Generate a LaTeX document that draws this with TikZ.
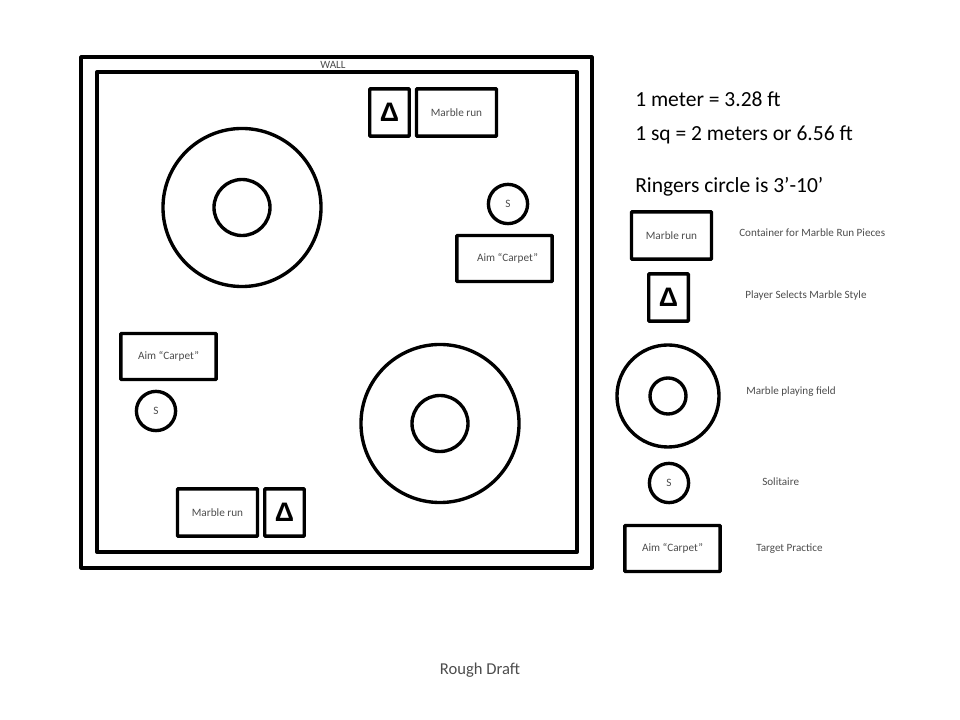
\documentclass[tikz,border=0pt]{standalone}
\usepackage{fontspec}
\setmainfont{Carlito}
\newfontfamily\simbolo{Liberation Sans}
\tikzset{
  pared/.style={draw, line width=2.8pt, line join=round},
  caja/.style={draw, line width=2.4pt, rounded corners=0.5pt, inner sep=0pt, text=black!70, font=\fontsize{8}{9}\selectfont},
  corrida/.style={caja, minimum width=2cm, minimum height=1.18cm},
  selector/.style={caja, minimum width=0.99cm, minimum height=1.18cm, text=black, font=\simbolo\fontsize{19}{21}\selectfont\bfseries},
  alfombra/.style={caja, minimum width=2.38cm, minimum height=1.15cm},
  solitario/.style={caja, circle, minimum size=0.98cm},
  campo/.style={draw, circle, line width=2.4pt, inner sep=0pt},
  nota/.style={anchor=base west, text=black!70, inner sep=0pt, font=\fontsize{7.9}{9}\selectfont},
  grande/.style={anchor=base west, inner sep=0pt, font=\fontsize{15.3}{18}\selectfont}
}
\begin{document}
\begin{tikzpicture}[x=0.025cm, y=-0.025cm]
  \useasboundingbox (0,0) rectangle (960,720);

  % Paredes
  \node[pared, inner sep=0pt, minimum size=12.75cm] (muro) at (336.5,312.5) {};
  \node[pared, line width=2.6pt, inner sep=0pt, minimum width=12cm, minimum height=12cm] (sala) at (337,312) {};
  \node[nota, anchor=center] (etiquetaMuro) at (333,65) {WALL};

  % Conjunto de arriba
  \node[selector] (selA) at (389.5,112.5) {Δ};
  \node[corrida] (corridaA) at (456.5,112.5) {Marble run};

  % Conjunto de abajo
  \node[corrida] (corridaB) at (217.5,512.5) {Marble run\hspace{0.07cm}};
  \node[selector] (selB) at (284.5,512.5) {Δ};

  % Campos de juego
  \node[campo, minimum size=3.95cm] (campoA) at (242,207.5) {};
  \node[campo, minimum size=1.4cm] (centroA) at (242,207.5) {};
  \node[campo, minimum size=3.95cm] (campoB) at (440,423.5) {};
  \node[campo, minimum size=1.4cm] (centroB) at (440,423.5) {};

  % Solitarios y alfombras
  \node[solitario] (solA) at (508,204) {S};
  \node[solitario] (solB) at (156,411) {S};
  \node[alfombra] (alfA) at (504.5,258.5) {\hspace{0.15cm}Aim “Carpet”};
  \node[alfombra] (alfB) at (168.5,356.5) {Aim “Carpet”};

  % Texto de escala
  \node[grande] (escalaA) at (635,107) {1 meter = 3.28 ft};
  \node[grande] (escalaB) at (635,141) {1 sq = 2 meters or 6.56 ft};
  \node[grande] (escalaC) at (635,193) {Ringers circle is 3’-10’};

  % Leyenda
  \node[corrida] (leyCorrida) at (671.5,235.5) {Marble run};
  \node[selector] (leySel) at (668.5,297.5) {Δ};
  \node[campo, minimum size=2.55cm] (leyCampo) at (668,396) {};
  \node[campo, minimum size=0.9cm] (leyCentro) at (668,396) {};
  \node[solitario] (leySol) at (669,483) {S};
  \node[alfombra] (leyAlf) at (672.5,548.5) {Aim “Carpet”};

  \node[nota] (notaCorrida) at (739,237) {Container for Marble Run Pieces};
  \node[nota] (notaSel) at (745,298.5) {Player Selects Marble Style};
  \node[nota] (notaCampo) at (746,394.5) {Marble playing field};
  \node[nota] (notaSol) at (762,485.5) {Solitaire};
  \node[nota] (notaAlf) at (756,551.5) {Target Practice};

  % Pie
  \node[text=black!70, inner sep=0pt, font=\fontsize{11.8}{14}\selectfont] (pie) at (480,670) {Rough Draft};
\end{tikzpicture}
\end{document}
